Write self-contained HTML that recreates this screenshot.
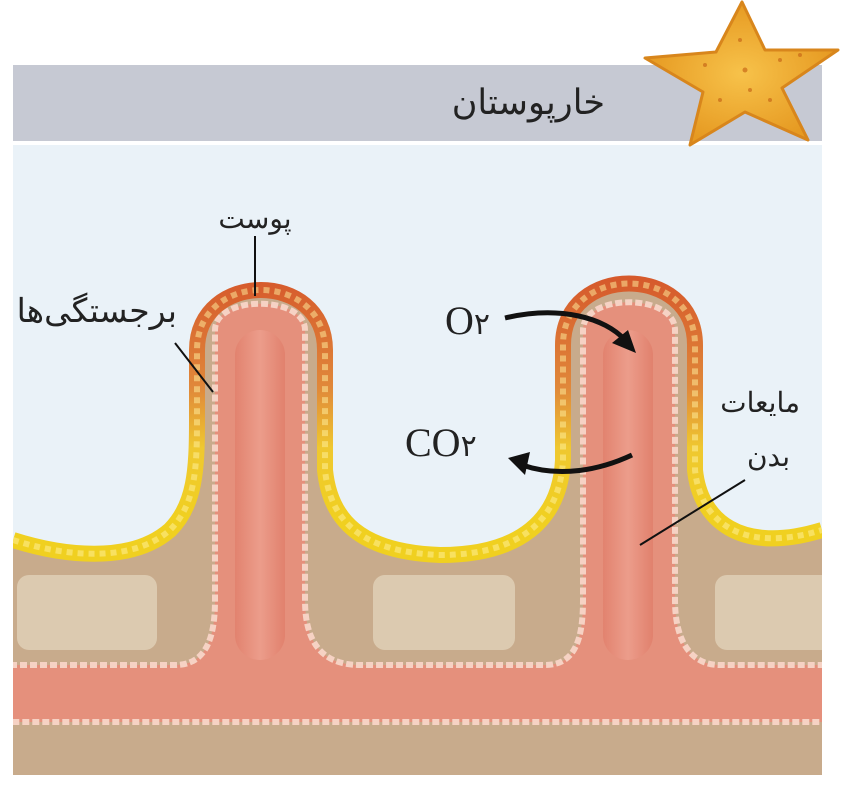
<!DOCTYPE html>
<html><head><meta charset="utf-8"><style>body{margin:0;background:#fff}svg{display:block}</style></head><body>
<svg width="850" height="785" viewBox="0 0 850 785" xmlns="http://www.w3.org/2000/svg">
<defs>
<linearGradient id="ep" gradientUnits="userSpaceOnUse" x1="0" y1="280" x2="0" y2="520">
<stop offset="0" stop-color="#d65a2c"/><stop offset="0.45" stop-color="#e0883a"/><stop offset="0.7" stop-color="#efc830"/><stop offset="1" stop-color="#f0d020"/></linearGradient>
<linearGradient id="pk" x1="0" y1="0" x2="1" y2="0"><stop offset="0" stop-color="#e07a66"/><stop offset="0.5" stop-color="#f0a595"/><stop offset="1" stop-color="#de7763"/></linearGradient>
<radialGradient id="st" cx="0.5" cy="0.5" r="0.5"><stop offset="0" stop-color="#f7c24a"/><stop offset="1" stop-color="#e69a22"/></radialGradient>
<clipPath id="cl"><rect x="13" y="0" width="809" height="785"/></clipPath>
</defs>
<rect x="13" y="65" width="809" height="76" fill="#c6c9d3"/>
<rect x="13" y="145" width="809" height="630" fill="#eaf2f8"/>
<g clip-path="url(#cl)">
<path d="M13,540 C60,555 130,565 170,530 C195,505 197,470 197,420 L197,350 C197,270 325,270 325,350 L325,470 C330,520 360,552 440,555 C520,555 560,520 563,460 L563,345 C563,263 695,263 695,345 L695,470 C700,520 740,555 822,530 L822,775 L13,775 Z" fill="#c8ab8c"/>
<rect x="17" y="575" width="140" height="75" rx="12" fill="#dccab0"/>
<rect x="373" y="575" width="142" height="75" rx="12" fill="#dccab0"/>
<rect x="715" y="575" width="120" height="75" rx="12" fill="#dccab0"/>
<path d="M0,665 L175,665 C205,665 215,640 215,600 L215,330 C215,295 305,295 305,330 L305,600 C305,640 320,665 360,665 L545,665 C575,665 583,640 583,600 L583,330 C583,293 675,293 675,330 L675,600 C675,640 690,665 720,665 L840,665 L840,722 L0,722 Z" fill="#e5907c" stroke="#f6d2c4" stroke-width="6" stroke-dasharray="7,3"/>
<rect x="235" y="330" width="50" height="330" rx="25" fill="url(#pk)" opacity="0.6"/>
<rect x="603" y="330" width="50" height="330" rx="25" fill="url(#pk)" opacity="0.6"/>
<path d="M13,540 C60,555 130,565 170,530 C195,505 197,470 197,420 L197,350 C197,270 325,270 325,350 L325,470 C330,520 360,552 440,555 C520,555 560,520 563,460 L563,345 C563,263 695,263 695,345 L695,470 C700,520 740,555 822,530" fill="none" stroke="url(#ep)" stroke-width="16"/>
<path d="M13,540 C60,555 130,565 170,530 C195,505 197,470 197,420 L197,350 C197,270 325,270 325,350 L325,470 C330,520 360,552 440,555 C520,555 560,520 563,460 L563,345 C563,263 695,263 695,345 L695,470 C700,520 740,555 822,530" fill="none" stroke="#fff2a0" stroke-opacity="0.5" stroke-width="6" stroke-dasharray="6,5"/>
</g>
<path d="M742,2 L765,50 L838,50 L782,88 L808,140 L745,112 L690,145 L703,92 L645,58 L716,52 Z" fill="url(#st)" stroke="#d8861c" stroke-width="3" stroke-linejoin="round"/>
<g fill="#c96a18" opacity="0.7"><circle cx="740" cy="40" r="2"/><circle cx="745" cy="70" r="2.5"/><circle cx="780" cy="60" r="2"/><circle cx="705" cy="65" r="2"/><circle cx="770" cy="100" r="2"/><circle cx="720" cy="100" r="2"/><circle cx="800" cy="55" r="2"/><circle cx="750" cy="90" r="2"/></g>
<g font-family="'Liberation Sans','Noto Sans CJK SC',sans-serif" fill="#222">
<text x="605" y="114" font-size="35" text-anchor="end">خارپوستان</text>
<text x="255" y="228" font-size="28" text-anchor="middle">پوست</text>
<text x="177" y="322" font-size="33" text-anchor="end">برجستگی‌ها</text>
<text x="800" y="412" font-size="28" text-anchor="end">مایعات</text>
<text x="790" y="466" font-size="28" text-anchor="end">بدن</text>
</g>
<g font-family="'Liberation Serif',serif" fill="#222" font-size="40">
<text x="445" y="334">O<tspan font-family="'Liberation Sans','Noto Sans CJK SC',sans-serif" font-size="30">۲</tspan></text>
<text x="405" y="456">CO<tspan font-family="'Liberation Sans','Noto Sans CJK SC',sans-serif" font-size="30">۲</tspan></text>
</g>
<g stroke="#111" stroke-width="2" fill="none">
<line x1="255" y1="236" x2="255" y2="296"/>
<line x1="175" y1="343" x2="213" y2="392"/>
<line x1="745" y1="480" x2="640" y2="545"/>
</g>
<path d="M505,318 C560,305 605,318 625,340" stroke="#111" stroke-width="5" fill="none"/>
<path d="M636,353 L612,343 L628,330 Z" fill="#111"/>
<path d="M632,455 C600,470 560,478 522,465" stroke="#111" stroke-width="5" fill="none"/>
<path d="M508,458 L530,452 L525,475 Z" fill="#111"/>
</svg>
</body></html>
